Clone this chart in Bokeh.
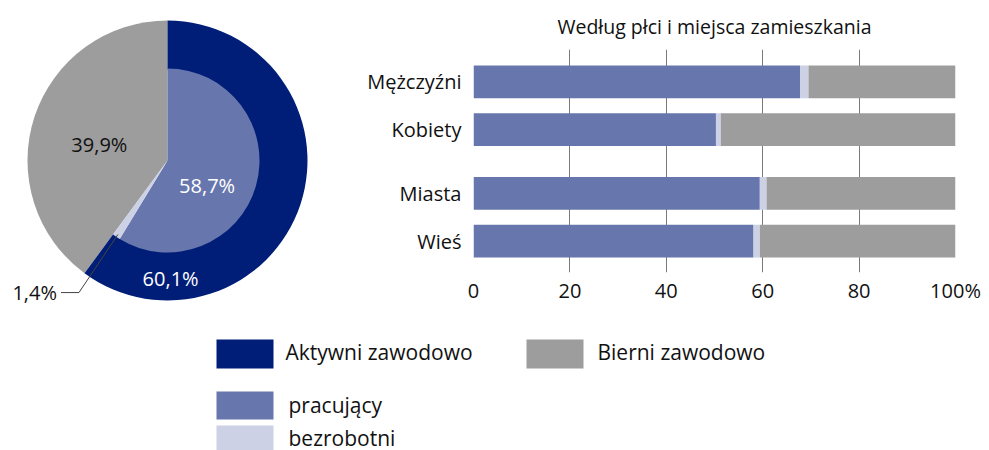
import math
from bokeh.plotting import figure
from bokeh.layouts import column, row
from bokeh.models import Range1d, ColumnDataSource, FixedTicker
from bokeh.core.properties import value
from bokeh.embed import file_html
from bokeh.resources import INLINE

# ---------------- data ----------------
pie_outer_names = ["Aktywni zawodowo", "Bierni zawodowo"]
pie_outer_values = [60.1, 39.9]
pie_inner_names = ["pracujący", "bezrobotni"]
pie_inner_values = [58.7, 1.4]

bar_categories = ["Mężczyźni", "Kobiety", "Miasta", "Wieś"]
bar_pracujacy = [67.8, 50.3, 59.4, 58.1]
bar_bezrobotni = [1.7, 1.0, 1.4, 1.3]
bar_bierni = [30.5, 48.7, 39.2, 40.6]

x_ticks = [0, 20, 40, 60, 80, 100]
x_tick_labels = ["0", "20", "40", "60", "80", "100%"]

bar_title = "Według płci i miejsca zamieszkania"

legend_names = ["Aktywni zawodowo", "Bierni zawodowo", "pracujący", "bezrobotni"]

# ---------------- style ----------------
C_AKT = "#001E78"
C_PRAC = "#6777AD"
C_BEZR = "#CCD1E5"
C_BIER = "#9D9D9D"
C_TEXT = "#111111"
FONT = "Open Sans"

R_OUT = 140
R_IN = 92


def ang(frac):
    # clockwise from 12 o'clock (percent) -> bokeh anticlockwise radians from +x
    return math.pi / 2 - 2 * math.pi * frac / 100.0


def polar(frac, r):
    a = ang(frac)
    return r * math.cos(a), r * math.sin(a)


# ---------------- pie ----------------
pie = figure(width=348, height=318, x_range=Range1d(-167, 181), y_range=Range1d(-158, 160),
             x_axis_type=None, y_axis_type=None, output_backend="svg", toolbar_location=None,
             min_border=0, outline_line_color=None)
pie.frame_align = False
pie.grid.visible = False

akt_start, akt_end = 0.0, pie_outer_values[0]
bier_start, bier_end = akt_end, akt_end + pie_outer_values[1]
prac_start, prac_end = 0.0, pie_inner_values[0]
bezr_start, bezr_end = prac_end, prac_end + pie_inner_values[1]

# Bierni: full sector
pie.wedge(x=0, y=0, radius=R_OUT, start_angle=ang(bier_end), end_angle=ang(bier_start),
          fill_color=C_BIER, line_color=None)
# Aktywni: outer ring
pie.annular_wedge(x=0, y=0, inner_radius=R_IN - 1, outer_radius=R_OUT,
                  start_angle=ang(akt_end), end_angle=ang(akt_start),
                  fill_color=C_AKT, line_color=None)
# inner pie
pie.wedge(x=0, y=0, radius=R_IN, start_angle=ang(prac_end), end_angle=ang(prac_start),
          fill_color=C_PRAC, line_color=None)
pie.wedge(x=0, y=0, radius=R_IN, start_angle=ang(bezr_end), end_angle=ang(bezr_start),
          fill_color=C_BEZR, line_color=None)


def fmt(v):
    return ("%.1f" % v).replace(".", ",") + "%"


# label anchors: (slice start, slice end, fraction along slice, radius)
lab = []
for (s, e, f, r, v, col) in [
    (bier_start, bier_end, 0.466, 70, pie_outer_values[1], C_TEXT),
    (prac_start, prac_end, 0.58, 47, pie_inner_values[0], "white"),
    (akt_start, akt_end, 0.825, 118, pie_outer_values[0], "white"),
]:
    x, y = polar(s + f * (e - s), r)
    lab.append((x, y, fmt(v), col))
pie.text(x=[l[0] for l in lab], y=[l[1] for l in lab], text=[l[2] for l in lab],
         text_color=[l[3] for l in lab], text_align="center", text_baseline="middle",
         text_font=value(FONT), text_font_size="20px")

# leader for bezrobotni
mid = (bezr_start + bezr_end) / 2
px, py = polar(mid, 89)
ex, ey = polar(mid, 159)
hx = ex - 18
pie.line(x=[hx, ex, px], y=[ey, ey, py], line_color="#444444", line_width=1)
pie.text(x=[hx - 4], y=[ey], text=[fmt(pie_inner_values[1])], text_color=C_TEXT,
         text_align="right", text_baseline="middle", text_font=value(FONT), text_font_size="20px")

# ---------------- bars ----------------
y_pos = [3 * i + (1 if i >= 2 else 0) for i in range(len(bar_categories))]
src = ColumnDataSource(dict(y=y_pos, pracujacy=bar_pracujacy, bezrobotni=bar_bezrobotni,
                            bierni=bar_bierni))

bar = figure(width=641, height=318, x_range=Range1d(0, 100), y_range=Range1d(11.97, -2.03),
             output_backend="svg", toolbar_location=None,
             min_border_left=125, min_border_right=34, min_border_top=48, min_border_bottom=46,
             outline_line_color=None)
bar.frame_align = False
bar.title.text = bar_title
bar.title.align = "center"
bar.title.text_font = FONT
bar.title.text_font_size = "19.5px"
bar.title.text_font_style = "normal"
bar.title.text_color = C_TEXT
bar.title.standoff = 20

bar.hbar_stack(["pracujacy", "bezrobotni", "bierni"], y="y", height=2.06, source=src,
               fill_color=[C_PRAC, C_BEZR, C_BIER], line_color=None)

bar.xaxis.ticker = FixedTicker(ticks=x_ticks)
bar.xaxis.major_label_overrides = {t: l for t, l in zip(x_ticks, x_tick_labels)}
bar.yaxis.ticker = FixedTicker(ticks=y_pos)
bar.yaxis.major_label_overrides = {p: c for p, c in zip(y_pos, bar_categories)}
for ax in (bar.xaxis, bar.yaxis):
    ax.axis_line_color = None
    ax.major_tick_line_color = None
    ax.minor_tick_line_color = None
    ax.major_tick_out = 0
    ax.major_label_text_font = FONT
    ax.major_label_text_font_size = "20px"
    ax.major_label_text_color = C_TEXT
bar.xaxis.major_label_standoff = 4
bar.yaxis.major_label_standoff = 12
bar.xgrid.ticker = FixedTicker(ticks=x_ticks)
bar.xgrid.grid_line_color = "#7A7A7A"
bar.ygrid.visible = False

# ---------------- legend ----------------
leg = figure(width=989, height=132, x_range=Range1d(0, 989), y_range=Range1d(132, 0),
             x_axis_type=None, y_axis_type=None, output_backend="svg", toolbar_location=None,
             min_border=0, outline_line_color=None)
leg.frame_align = False
leg.grid.visible = False

legend_colors = [C_AKT, C_BIER, C_PRAC, C_BEZR]
# layout of swatches: (left, top, bottom, text x, baseline)
slots = [(216, 21, 50, 285, 33), (526, 21, 50, 597, 33), (216, 73, 101, 288, 86), (216, 107, 134, 288, 119)]
leg.quad(left=[s[0] for s in slots], right=[s[0] + 57 for s in slots],
         top=[s[1] for s in slots], bottom=[s[2] for s in slots],
         fill_color=legend_colors, line_color=None)
leg.text(x=[s[3] for s in slots], y=[s[4] for s in slots], text=legend_names,
         text_color=C_TEXT, text_align="left", text_baseline="alphabetic",
         text_font=value(FONT), text_font_size="21px")

layout = column(row(pie, bar), leg)
open("out.html", "w").write(file_html(layout, INLINE))
